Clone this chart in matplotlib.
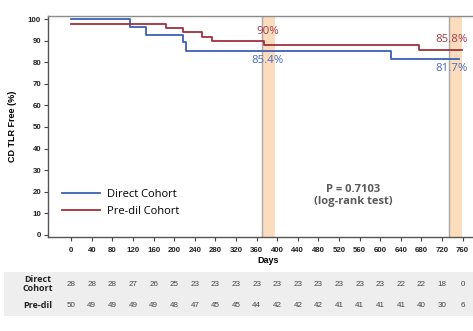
import matplotlib
matplotlib.use("Agg")
import matplotlib.pyplot as plt
import matplotlib.transforms as mtransforms
from matplotlib.patches import Rectangle

# Kaplan-Meier step data (days, % free of CD TLR)
direct_days = [0, 114, 145, 217, 223, 620, 753]
direct_surv = [100, 96.4, 92.9, 89.3, 85.4, 81.7, 81.7]
predil_days = [0, 184, 217, 253, 274, 375, 675, 759]
predil_surv = [98, 96, 94, 92, 90, 88.3, 85.8, 85.8]

# landmark windows (1 year and 2 years)
windows = [(370, 395), (733, 759)]

day_ticks = list(range(0, 761, 40))
direct_at_risk = [28, 28, 28, 27, 26, 25, 23, 23, 23, 23, 23, 23, 23, 23, 23, 23, 22, 22, 18, 0]
predil_at_risk = [50, 49, 49, 49, 49, 48, 47, 45, 45, 44, 42, 42, 42, 41, 41, 41, 41, 40, 30, 6]

blue = "#3d5fb4"
red = "#a3303d"
blue_txt = "#4a6cbd"
red_txt = "#a63a4a"
band = "#fbdcbc"

plt.rcParams["font.family"] = ["Liberation Sans", "DejaVu Sans"]

fig = plt.figure(figsize=(4.73, 3.31), dpi=100)
ax = fig.add_axes([0.1015, 0.284, 0.8985, 0.668])

for x0, x1 in windows:
    ax.axvspan(x0, x1, color=band, lw=0, zorder=0)
    ax.axvline(x0, color="#a8a8a8", lw=1.0, zorder=1)

ax.plot(direct_days, direct_surv, drawstyle="steps-post", color=blue, lw=1.3,
        label="Direct Cohort", zorder=3)
ax.plot(predil_days, predil_surv, drawstyle="steps-post", color=red, lw=1.3,
        label="Pre-dil Cohort", zorder=3)

# survival labels at the landmarks
lab_font = dict(family="Open Sans", fontsize=8.2, ha="center")
ax.text(382, 91.6, "90%", color=red_txt, va="bottom", **lab_font)
ax.text(382, 83.4, "85.4%", color=blue_txt, va="top", **lab_font)
ax.text(739, 88.2, "85.8%", color=red_txt, va="bottom", **lab_font)
ax.text(739, 79.6, "81.7%", color=blue_txt, va="top", **lab_font)

ax.text(548, 18.2, "P = 0.7103\n(log-rank test)", color="#5a5a5a", fontsize=8,
        family="Open Sans", fontweight="bold", ha="center", va="center",
        linespacing=1.1)

ax.set_xlim(-45, 780)
ax.set_ylim(-1.1, 101.6)
ax.set_xticks(day_ticks)
ax.set_yticks(range(0, 101, 10))
ax.tick_params(labelsize=5.7, length=3, width=0.8, color="#444444", pad=2)
for lbl in ax.get_xticklabels() + ax.get_yticklabels():
    lbl.set_fontweight("bold")
    lbl.set_color("#222222")
ax.tick_params(axis="x", pad=4)

ax.spines["right"].set_visible(False)
ax.spines["top"].set_color("#8c8c8c")
ax.spines["left"].set_color("#555555")
ax.spines["bottom"].set_color("#555555")
for s in ax.spines.values():
    s.set_linewidth(1.0)

ax.set_ylabel("CD TLR Free (%)", fontsize=6.5, fontweight="bold", labelpad=8)
ax.text(382, -9.8, "Days", fontsize=6.5, fontweight="bold", ha="center", va="top",
        transform=ax.transData, clip_on=False)

leg = ax.legend(loc="lower left", bbox_to_anchor=(0.01, 0.045), frameon=False,
                handlelength=3.4, handletextpad=0.6, labelspacing=0.55,
                prop={"family": "Open Sans", "size": 8})

# number-at-risk table
fig.patches.append(Rectangle((4 / 473, 1 - 316 / 331), 469 / 473, 44 / 331,
                             transform=fig.transFigure, color="#eeeeee", lw=0,
                             zorder=0))
trans = mtransforms.blended_transform_factory(ax.transData, fig.transFigure)
row1_y = 1 - 284 / 331
row2_y = 1 - 305.5 / 331
fig.text(38 / 473, row1_y, "Direct\nCohort", fontsize=6.5, fontweight="bold",
         family="Open Sans", ha="center", va="center", linespacing=0.9,
         color="#222222")
fig.text(38 / 473, row2_y, "Pre-dil", fontsize=6.5, fontweight="bold",
         family="Open Sans", ha="center", va="center", color="#222222")
for d, n1, n2 in zip(day_ticks, direct_at_risk, predil_at_risk):
    fig.text(d, row1_y, str(n1), transform=trans, fontsize=5.8, ha="center",
             va="center", color="#444444")
    fig.text(d, row2_y, str(n2), transform=trans, fontsize=5.8, ha="center",
             va="center", color="#444444")

fig.savefig("out.png", dpi=100)
